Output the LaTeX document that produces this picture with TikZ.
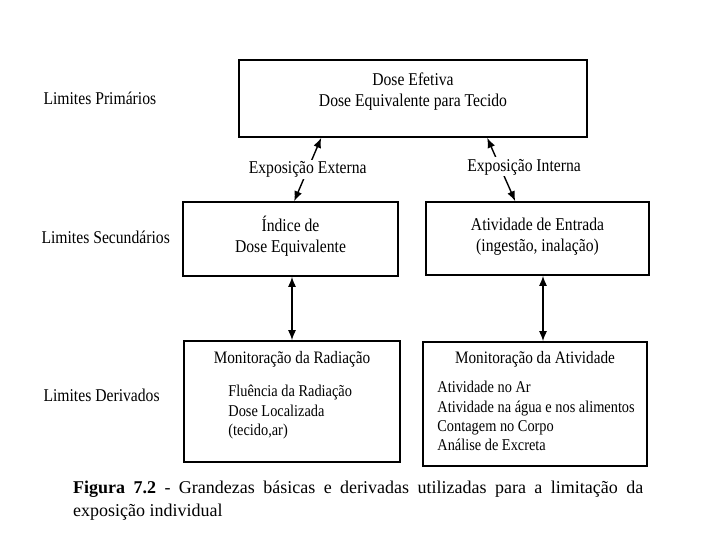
\documentclass[tikz,border=0pt]{standalone}
\usepackage{fontspec}
\setmainfont{Liberation Serif}[FakeStretch=0.87]
\newfontfamily\legfont{Liberation Serif}
\usetikzlibrary{arrows.meta,positioning}
\begin{document}
\begin{tikzpicture}[x=1pt, y=-1pt, >={Latex[length=10pt,width=8pt]}, font=\fontsize{18}{21}\selectfont,
	caixa/.style={draw, line width=1.6pt, align=center, inner sep=0pt},
	seta/.style={<->, line width=1.4pt},
	rotulo/.style={fill=white, inner sep=1.5pt},
	titulo/.style={font=\fontsize{17.5}{21}\selectfont},
	lista/.style={align=left, inner sep=0pt, font=\fontsize{16.5}{19.2}\selectfont}]
	\useasboundingbox (0,0) rectangle (720,540);
	
	% niveis
	\node[anchor=west] (prim) at (40,98) {Limites Primários};
	\node[anchor=west] (sec) at (38,237) {Limites Secundários};
	\node[anchor=west] (der) at (40,395) {Limites Derivados};
	
	% caixas
	\node[caixa, minimum width=348pt, minimum height=77pt] (efetiva) at (413,98.5) {};
	\node[align=center] (efetivat) at ([yshift=7pt]efetiva.center) {Dose Efetiva\\Dose Equivalente para Tecido};
	\node[caixa, minimum width=215pt, minimum height=74pt] (indice) at (290.5,239) {};
	\node[align=center] (indicet) at ([yshift=3pt]indice.center) {Índice de\\Dose Equivalente};
	\node[caixa, minimum width=223pt, minimum height=73pt] (entrada) at (537.5,238.5) {};
	\node[align=center] (entradat) at ([yshift=2pt]entrada.center) {Atividade de Entrada\\(ingestão, inalação)};
	\node[caixa, minimum width=216pt, minimum height=121pt] (monrad) at (292,401.5) {};
	\node[caixa, minimum width=224pt, minimum height=124pt] (monat) at (535,404) {};
	
	\node[titulo, below=8pt of monrad.north] (monradt) {Monitoração da Radiação};
	\node[lista, anchor=north west] (monradl) at ([xshift=45pt, yshift=-45pt]monrad.north west) {Fluência da Radiação\\Dose Localizada\\(tecido,ar)};
	\node[titulo, below=7pt of monat.north] (monatt) {Monitoração da Atividade};
	\node[lista, anchor=north west] (monatl) at ([xshift=15pt, yshift=-40pt]monat.north west) {Atividade no Ar\\Atividade na água e nos alimentos\\Contagem no Corpo\\Análise de Excreta};
	
	% setas
	\draw[seta] ([xshift=112pt]indice.north west) -- node[rotulo] (ext) {Exposição Externa} ([xshift=83pt]efetiva.south west);
	\draw[seta] ([xshift=90pt]entrada.north west) -- node[rotulo, pos=0.54, xshift=24pt] (int) {Exposição Interna} ([xshift=249pt]efetiva.south west);
	\draw[seta] (indice.south -| monrad.north) -- (monrad.north);
	\draw[seta] ([xshift=8pt]monat.north |- entrada.south) -- ([xshift=8pt]monat.north);
	
	% legenda
	\node[anchor=north west, text width=570pt, align=justify, inner sep=0pt, font=\legfont\fontsize{18}{23}\selectfont] (legenda) at (73,481) {\textbf{Figura 7.2} - Grandezas básicas e derivadas utilizadas para a limitação da\linebreak exposição individual};
\end{tikzpicture}
\end{document}
